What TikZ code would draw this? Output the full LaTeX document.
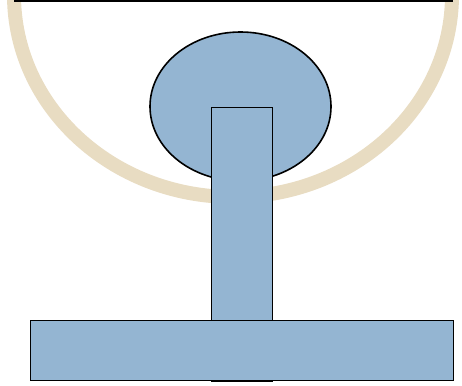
\documentclass[tikz,border=0pt]{standalone}
\usetikzlibrary{shapes.geometric}
\begin{document}
\begin{tikzpicture}[x=1pt,y=-1pt,
  part/.style={draw=black,line width=1.6pt,fill=partblue},
  ]
\definecolor{partblue}{HTML}{94B5D2}
\definecolor{sand}{HTML}{E8DCC2}
\useasboundingbox (0,0) rectangle (462,385);
\draw[sand,line width=14pt] (14,-5) arc[start angle=180,end angle=360,x radius=219,y radius=-202];
\coordinate (tl) at (14,1);
\coordinate (tr) at (453,1);
\draw[black,line width=1.6pt] (tl) -- (tr);
\node[part,ellipse,minimum width=181pt,minimum height=149pt,inner sep=0pt] (head) at (240.5,106.5) {};
\node[part,rectangle,minimum width=61pt,minimum height=274pt,inner sep=0pt,anchor=north west] (post) at (210.5,106.5) {};
\node[part,rectangle,minimum width=423pt,minimum height=60pt,inner sep=0pt,anchor=north west] (base) at (29.5,319.5) {};
\end{tikzpicture}
\end{document}
